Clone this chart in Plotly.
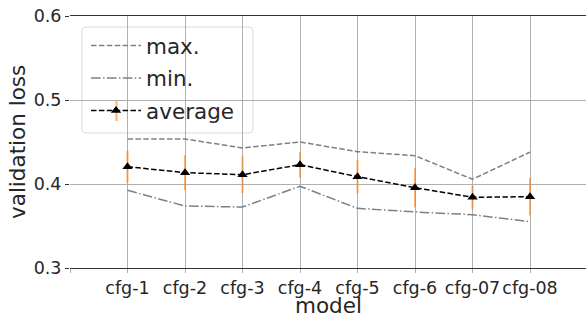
import plotly.graph_objects as go

categories = ["cfg-1", "cfg-2", "cfg-3", "cfg-4", "cfg-5", "cfg-6", "cfg-07", "cfg-08"]
max_loss = [0.4536, 0.4536, 0.4429, 0.4500, 0.4385, 0.4337, 0.4056, 0.4380]
min_loss = [0.3925, 0.3738, 0.3726, 0.3973, 0.3710, 0.3667, 0.3635, 0.3551]
avg_loss = [0.4206, 0.4135, 0.4111, 0.4230, 0.4087, 0.3956, 0.3842, 0.3849]
avg_err = [0.0190, 0.0208, 0.0218, 0.0155, 0.0198, 0.0232, 0.0140, 0.0222]
y_ticks = [0.3, 0.4, 0.5, 0.6]

xpos = list(range(1, len(categories) + 1))
FONT = "DejaVu Sans"
ERR_COLOR = "rgba(255,127,14,0.6)"

W, H = 586, 316
ML, MR, MT, MB = 70, 0, 16, 48
PW, PH = W - ML - MR, H - MT - MB


def px_x(p):
    return (p - ML) / PW


def px_y(p):
    return 1 - (p - MT) / PH


fig = go.Figure()
fig.add_trace(go.Scatter(
    x=xpos, y=max_loss, name="max.", mode="lines", legendgroup="a",
    line=dict(color="#808080", width=1.5, dash="5.5px,2.4px"),
))
fig.add_trace(go.Scatter(
    x=xpos, y=min_loss, name="min.", mode="lines", legendgroup="b",
    line=dict(color="#808080", width=1.5, dash="9.6px,2.4px,1.5px,2.4px"),
))
fig.add_trace(go.Scatter(
    x=xpos, y=avg_loss, name="average", mode="lines+markers", legendgroup="c",
    line=dict(color="black", width=1.5, dash="5.5px,2.4px"),
    marker=dict(symbol="triangle-up", size=9, color="black"),
    error_y=dict(type="data", array=avg_err, visible=True,
                 color=ERR_COLOR, thickness=2, width=0),
))

# rounded legend frame
x0, x1, y0, y1, r = 82, 253, 27, 133, 4
rx, ry = r / PW, r / PH
X0, X1, Y0, Y1 = px_x(x0), px_x(x1), px_y(y1), px_y(y0)
path = (f"M {X0+rx},{Y0} L {X1-rx},{Y0} Q {X1},{Y0} {X1},{Y0+ry} "
        f"L {X1},{Y1-ry} Q {X1},{Y1} {X1-rx},{Y1} L {X0+rx},{Y1} "
        f"Q {X0},{Y1} {X0},{Y1-ry} L {X0},{Y0+ry} Q {X0},{Y0} {X0+rx},{Y0} Z")
fig.add_shape(type="path", path=path, xref="paper", yref="paper",
              fillcolor="rgba(255,255,255,0.8)", line=dict(color="#d9d9d9", width=1),
              layer="between")

LEG_X, ITEM_W = 86, 50
glyph_x = LEG_X + 1 + (4 + ITEM_W + 5) / 2
# error-bar glyph in the legend sample of "average"
fig.add_shape(type="line", xref="paper", yref="paper",
              x0=px_x(glyph_x), x1=px_x(glyph_x), y0=px_y(101), y1=px_y(121),
              line=dict(color=ERR_COLOR, width=2), layer="between")

fig.update_layout(
    width=W, height=H,
    margin=dict(l=ML, r=MR, t=MT, b=MB, autoexpand=False),
    paper_bgcolor="white", plot_bgcolor="white",
    font=dict(family=FONT, size=17.5, color="#262626"),
    showlegend=True,
    legend=dict(
        x=px_x(LEG_X), y=px_y(25), xanchor="left", yanchor="top",
        bgcolor="rgba(0,0,0,0)", borderwidth=0,
        font=dict(family=FONT, size=21.5, color="#262626"),
        tracegroupgap=1.5, itemwidth=ITEM_W,
    ),
    xaxis=dict(
        range=[0, PW / 57.5], automargin=False,
        tickvals=[0] + xpos, ticktext=[""] + categories,
        showgrid=True, gridcolor="#b0b0b0", gridwidth=1,
        showline=True, linecolor="#333333", linewidth=1.2, mirror=True,
        ticks="outside", ticklen=4, tickcolor="#b0b0b0",
        zeroline=False,
    ),
    yaxis=dict(
        range=[0.3, 0.6], automargin=False,
        tickvals=y_ticks, ticktext=[f"{v:.1f}" for v in y_ticks],
        showgrid=True, gridcolor="#b0b0b0", gridwidth=1,
        showline=False, zeroline=False,
        ticks="outside", ticklen=4, tickcolor="#333333",
    ),
    annotations=[
        dict(text="model", xref="paper", yref="paper", x=0.5,
             y=px_y(305), xanchor="center", yanchor="middle", showarrow=False,
             font=dict(family=FONT, size=21.5, color="#262626")),
        dict(text="validation loss", xref="paper", yref="paper", x=px_x(17),
             y=px_y(142), xanchor="center", yanchor="middle", showarrow=False,
             textangle=-90, font=dict(family=FONT, size=21.5, color="#262626")),
    ],
)

fig.write_html("out.html", config={"displayModeBar": False},
               post_script="document.body.style.margin='0';document.body.style.overflow='hidden';")
